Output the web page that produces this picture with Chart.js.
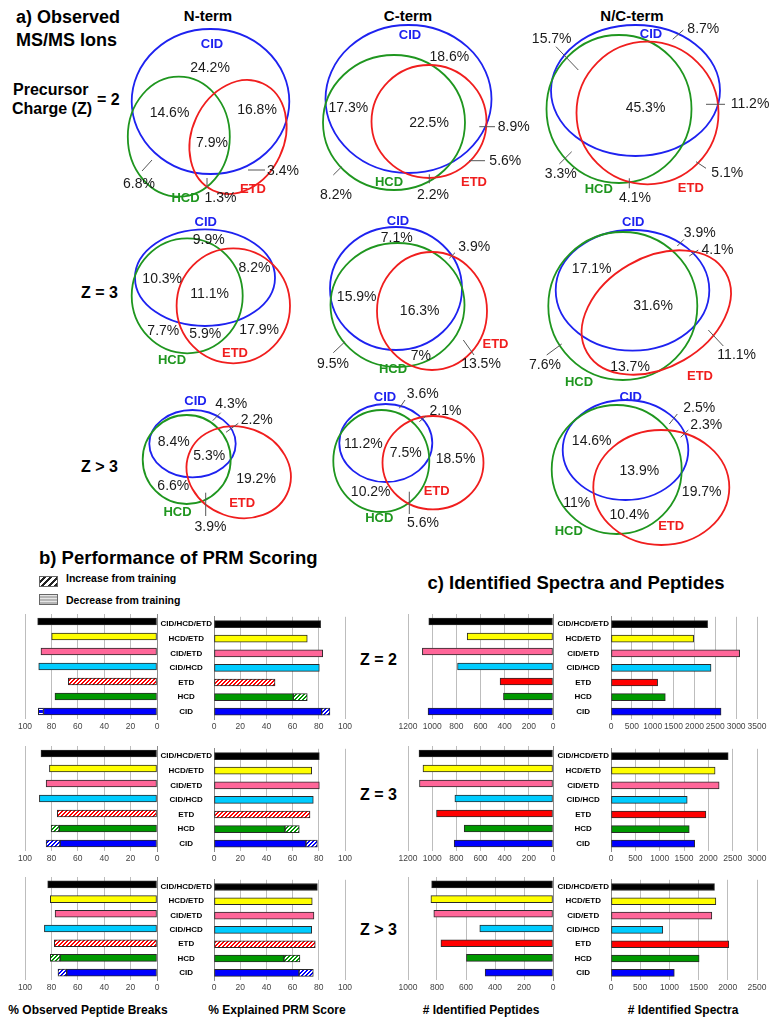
<!DOCTYPE html>
<html>
<head>
<meta charset="utf-8">
<title>Observed ions, PRM scoring, identified spectra</title>
<script src="https://cdn.jsdelivr.net/npm/chart.js@4.4.1/dist/chart.umd.min.js"></script>
<style>
  body { margin: 0; background: #fff; }
  #page { position: relative; width: 779px; height: 1026px; overflow: hidden; font-family: "Liberation Sans", Arial, sans-serif; }
  #page canvas { position: absolute; }
  .t { position: absolute; font-weight: bold; white-space: nowrap; line-height: 1; color: #000; transform: translateY(-50%); }
  .c { transform: translate(-50%, -50%); }
  .box { position: absolute; width: 17px; height: 9px; border: 1px solid #666; }
</style>
</head>
<body>
<div id="page">
  <div class="t" style="left:16px;top:17px;font-size:18px">a) Observed</div>
  <div class="t" style="left:16px;top:40px;font-size:18px">MS/MS Ions</div>
  <div class="t c" style="left:208px;top:15px;font-size:15px">N-term</div>
  <div class="t c" style="left:408px;top:15px;font-size:15px">C-term</div>
  <div class="t c" style="left:632px;top:15px;font-size:15px">N/C-term</div>
  <div class="t" style="left:13px;top:90px;font-size:16px">Precursor</div>
  <div class="t" style="left:12px;top:109px;font-size:16px">Charge (Z)</div>
  <div class="t" style="left:97px;top:100px;font-size:16px">= 2</div>
  <div class="t" style="left:81px;top:293px;font-size:16px">Z = 3</div>
  <div class="t" style="left:81px;top:467px;font-size:16px">Z &gt; 3</div>

  <div class="t" style="left:39px;top:558px;font-size:18.5px">b) Performance of PRM Scoring</div>
  <div class="box" style="left:39px;top:576px;background:repeating-linear-gradient(135deg,#fff 0 2.5px,#222 2.5px 4.5px)"></div>
  <div class="t" style="left:66px;top:578px;font-size:10.5px">Increase from training</div>
  <div class="box" style="left:39px;top:594px;background:repeating-linear-gradient(180deg,#e6e6e6 0 1.5px,#b5b5b5 1.5px 3px)"></div>
  <div class="t" style="left:66px;top:600px;font-size:10.5px">Decrease from training</div>

  <div class="t c" style="left:576px;top:583px;font-size:18.5px">c) Identified Spectra and Peptides</div>
  <div class="t" style="left:360px;top:660px;font-size:16px">Z = 2</div>
  <div class="t" style="left:360px;top:795px;font-size:16px">Z = 3</div>
  <div class="t" style="left:360px;top:930px;font-size:16px">Z &gt; 3</div>

  <div class="t c" style="left:88px;top:1010px;font-size:12px">% Observed Peptide Breaks</div>
  <div class="t c" style="left:277px;top:1010px;font-size:12px">% Explained PRM Score</div>
  <div class="t c" style="left:481px;top:1010px;font-size:12px"># Identified Peptides</div>
  <div class="t c" style="left:683px;top:1010px;font-size:12px"># Identified Spectra</div>
</div>

<script>
// ---- Venn data: share of ions per region, order: CID, HCD, ETD, CID+HCD, CID+ETD, HCD+ETD, all three
const regions = ['CID', 'HCD', 'ETD', 'CID+HCD', 'CID+ETD', 'HCD+ETD', 'CID+HCD+ETD'];
const ntermZ2 = [24.2, 6.8, 3.4, 14.6, 16.8, 1.3, 7.9];
const ctermZ2 = [18.6, 8.2, 5.6, 17.3, 8.9, 2.2, 22.5];
const nctermZ2 = [8.7, 3.3, 5.1, 15.7, 11.2, 4.1, 45.3];
const ntermZ3 = [9.9, 7.7, 17.9, 10.3, 8.2, 5.9, 11.1];
const ctermZ3 = [7.1, 9.5, 13.5, 15.9, 3.9, 7, 16.3];
const nctermZ3 = [3.9, 7.6, 11.1, 17.1, 4.1, 13.7, 31.6];
const ntermZ4 = [4.3, 6.6, 19.2, 8.4, 2.2, 3.9, 5.3];
const ctermZ4 = [3.6, 10.2, 18.5, 11.2, 2.1, 5.6, 7.5];
const nctermZ4 = [2.5, 11, 19.7, 14.6, 2.3, 10.4, 13.9];

// ---- bar data
const categories = ['CID/HCD/ETD', 'HCD/ETD', 'CID/ETD', 'CID/HCD', 'ETD', 'HCD', 'CID'];
// % observed peptide breaks, and change vs training (+ increase, - decrease)
const breaksZ2 = [90.4, 79.8, 87.9, 89.6, 67.2, 77.3, 86.0];
const breaksZ2Delta = [0, 0, 0, 0, 0, 0, -3.9];
const breaksZ3 = [87.9, 81.5, 84.0, 89.1, 75.5, 74.0, 73.4];
const breaksZ3Delta = [0, 0, 0, 0, 0, 6.2, 10.6];
const breaksZ4 = [82.8, 80.8, 77.2, 85.3, 77.8, 73.4, 68.4];
const breaksZ4Delta = [0, 0, 0, 0, 0, 7.4, 6.6];
// % explained PRM score
const prmZ2 = [81.4, 71.2, 83.0, 80.4, 46.6, 60.5, 82.2];
const prmZ2Delta = [0, 0, 0, 0, 0, 10.7, 6.3];
const prmZ3 = [80.4, 74.6, 80.4, 75.8, 73.3, 54.2, 70.2];
const prmZ3Delta = [0, 0, 0, 0, 0, 10.9, 8.7];
const prmZ4 = [78.9, 75.0, 76.3, 74.6, 77.3, 53.4, 64.9];
const prmZ4Delta = [0, 0, 0, 0, 0, 12.2, 10.9];
// identified peptides / spectra
const peptidesZ2 = [1028, 710, 1081, 790, 438, 410, 1034];
const spectraZ2 = [2316, 1981, 3084, 2398, 1118, 1302, 2638];
const peptidesZ3 = [1109, 1076, 1105, 812, 964, 735, 818];
const spectraZ3 = [2408, 2139, 2222, 1566, 1950, 1608, 1720];
const peptidesZ4 = [837, 842, 822, 505, 773, 597, 468];
const spectraZ4 = [1772, 1796, 1727, 887, 2017, 1509, 1084];
const noChange = [0, 0, 0, 0, 0, 0, 0];

Chart.defaults.font.family = '"Liberation Sans", Arial, sans-serif';
Chart.defaults.animation = false;
Chart.defaults.responsive = false;
Chart.defaults.plugins.legend.display = false;
Chart.defaults.plugins.tooltip.enabled = false;

const page = document.getElementById('page');
function addCanvas(left, top, w, h) {
  const c = document.createElement('canvas');
  c.width = w; c.height = h;
  c.style.left = left + 'px';
  c.style.top = top + 'px';
  page.appendChild(c);
  return c;
}

// ---- Venn layout (pixel units of the venn panel)
const vennColor = { cid: '#1e22f0', hcd: '#1f961f', etd: '#f01e1e' };
const vennSets = [
  { vals: ntermZ2,
    ell: { cid: [210.5, 101.5, 78.8, 72.5, 0], hcd: [178.8, 136.7, 51, 60, 0], etd: [238, 137, 46, 59, 25] },
    names: { cid: [212, 44], hcd: [185.5, 198], etd: [253, 189] },
    pos: [[210, 68], [139, 184], [283, 171], [169.5, 113], [257, 110], [220.5, 198], [212, 143]],
    lead: [null, [142, 171, 152, 160], [248, 170, 265, 170], null, null, [207, 178, 207, 188], null] },
  { vals: ctermZ2,
    ell: { cid: [408.5, 99, 83, 74, 0], hcd: [394, 122.5, 71, 67.5, 0], etd: [429, 121.5, 57.5, 56.5, 0] },
    names: { cid: [410, 35], hcd: [389, 182], etd: [474, 182.7] },
    pos: [[449.3, 56.7], [336, 195], [505.3, 160.7], [348.3, 108.3], [513.7, 126.7], [433, 195], [429, 122.7]],
    lead: [null, [333.3, 175, 341.7, 166.7], [469, 160.7, 485, 160.7], null, [479.3, 126.7, 495, 126.7], [429.3, 174.3, 429.3, 183.3], null] },
  { vals: nctermZ2,
    ell: { cid: [635.5, 90.5, 84.5, 65.5, 0], hcd: [619, 109, 72.5, 74, 0], etd: [647.5, 113, 71, 71.3, 0] },
    names: { cid: [651, 34], hcd: [598.8, 189.3], etd: [690.8, 188.3] },
    pos: [[703.3, 29.3], [560.8, 174], [727.3, 172.7], [551.7, 39.3], [750, 104.3], [635, 198.3], [645.5, 108.3]],
    lead: [[672.7, 39.3, 683.3, 30], [559.3, 164, 571.7, 151.7], [696, 161.7, 706, 168.3], [556, 46.7, 578.3, 70], [706, 104.3, 725, 104.3], [629.3, 178.3, 629.3, 188.3], null] },
  { vals: ntermZ3,
    ell: { cid: [205, 277.7, 70, 48.3, 0], hcd: [187.2, 295.8, 55.5, 57.5, 0], etd: [233.3, 305.8, 56.7, 57.5, 0] },
    names: { cid: [205.8, 222.7], hcd: [172, 360.7], etd: [235, 353.3] },
    pos: [[208.7, 240], [163.3, 330.7], [259.2, 330], [162.2, 279.3], [254.5, 268.3], [205.3, 334], [209.7, 294.3]],
    lead: [null, null, null, null, null, null, null] },
  { vals: ctermZ3,
    ell: { cid: [396, 288.5, 66, 61.5, 0], hcd: [397.5, 305, 67, 62, 0], etd: [432, 311, 55, 59, 0] },
    names: { cid: [398, 221.7], hcd: [393, 369], etd: [495.5, 344] },
    pos: [[396.7, 238.3], [333, 364], [481, 364], [356.7, 297.3], [474.2, 247.3], [420.8, 355.7], [419.7, 310.7]],
    lead: [null, [333.3, 352.7, 345, 341.7], [463.3, 340, 474, 355], null, [449.3, 258.3, 455, 252.7], null, null] },
  { vals: nctermZ3,
    ell: { cid: [632.5, 290.3, 76.8, 60.3, 0], hcd: [622.8, 306, 74.5, 74, 0], etd: [656.3, 312.5, 80, 55, -30] },
    names: { cid: [633.3, 222.7], hcd: [579, 382], etd: [700, 376] },
    pos: [[699.7, 233.3], [545, 365], [736.7, 355], [591.7, 269], [717.5, 250], [630, 367], [653, 306]],
    lead: [[677.3, 246, 684, 239.3], [546.7, 355, 561.7, 344], [708.3, 330, 723.3, 346], null, [689.3, 256, 698.3, 250], null, null] },
  { vals: ntermZ4,
    ell: { cid: [192.5, 443.7, 43.2, 33.7, 0], hcd: [186.7, 459.5, 44, 44.5, 0], etd: [238.7, 472.2, 53, 45, 20] },
    names: { cid: [195.5, 401], hcd: [177.5, 512.7], etd: [242.2, 503.3] },
    pos: [[231.2, 404.3], [173.3, 485.7], [256, 479.3], [173.7, 441.7], [256.7, 420], [210.5, 527.3], [209.2, 455.7]],
    lead: [[212.7, 420.7, 220.7, 412.7], null, null, null, [226, 432.3, 238.3, 423.3], [205.7, 492.7, 205.7, 516], null] },
  { vals: ctermZ4,
    ell: { cid: [385.8, 443, 46.5, 39, 0], hcd: [381.3, 461, 48, 51, 0], etd: [433, 462.7, 50.5, 46.7, 0] },
    names: { cid: [385, 397], hcd: [379.3, 518.3], etd: [436.7, 491.7] },
    pos: [[422.7, 394], [370.7, 491.7], [455.5, 459.3], [363.3, 444], [445.5, 410.7], [423, 523.3], [405.7, 452.7]],
    lead: [[399.3, 408.3, 405, 400], null, null, null, [419.3, 421.7, 426, 416], [409.3, 491.7, 409.3, 514], null] },
  { vals: nctermZ4,
    ell: { cid: [625.5, 450, 62.8, 50, 0], hcd: [616.7, 469.5, 65, 64.5, 0], etd: [661.3, 487.5, 68, 57.5, 0] },
    names: { cid: [630.7, 397.3], hcd: [568.8, 531.7], etd: [671.2, 526.7] },
    pos: [[699.2, 408.3], [576.7, 502.7], [701.7, 491.7], [591.7, 440.7], [706.3, 425], [629.3, 515], [639.3, 470.7]],
    lead: [[669.3, 424, 677.3, 414], null, null, null, [680.7, 437.3, 688.3, 430], null, null] }
];

const vennPlugin = {
  id: 'venn',
  afterDraw(chart) {
    const ctx = chart.ctx, xs = chart.scales.x, ys = chart.scales.y;
    const X = v => xs.getPixelForValue(v), Y = v => ys.getPixelForValue(v);
    ctx.save();
    vennSets.forEach(d => {
      ['cid', 'hcd', 'etd'].forEach(k => {
        const [cx, cy, rx, ry, rot] = d.ell[k];
        ctx.beginPath();
        ctx.ellipse(X(cx), Y(cy), Math.abs(X(rx) - X(0)), Math.abs(Y(ry) - Y(0)), rot * Math.PI / 180, 0, Math.PI * 2);
        ctx.strokeStyle = vennColor[k];
        ctx.lineWidth = 1.8;
        ctx.stroke();
      });
      ctx.strokeStyle = '#555';
      ctx.lineWidth = 1;
      d.lead.forEach(l => {
        if (!l) return;
        ctx.beginPath();
        ctx.moveTo(X(l[0]), Y(l[1]));
        ctx.lineTo(X(l[2]), Y(l[3]));
        ctx.stroke();
      });
      ctx.textAlign = 'center';
      ctx.textBaseline = 'middle';
      ctx.font = '14px "Liberation Sans", Arial, sans-serif';
      ctx.fillStyle = '#1a1a1a';
      d.vals.forEach((v, i) => ctx.fillText(v + '%', X(d.pos[i][0]), Y(d.pos[i][1])));
      ctx.font = 'bold 13px "Liberation Sans", Arial, sans-serif';
      ['cid', 'hcd', 'etd'].forEach(k => {
        ctx.fillStyle = vennColor[k];
        ctx.fillText(k.toUpperCase(), X(d.names[k][0]), Y(d.names[k][1]));
      });
    });
    ctx.restore();
  }
};

new Chart(addCanvas(0, 0, 779, 548), {
  type: 'scatter',
  data: { datasets: [] },
  options: {
    events: [],
    layout: { padding: 0 },
    scales: {
      x: { type: 'linear', min: 0, max: 779, display: false },
      y: { type: 'linear', min: 0, max: 548, reverse: true, display: false }
    }
  },
  plugins: [vennPlugin]
});

// ---- bar charts
const barColors = ['#000000', '#ffff00', '#ff6699', '#00ccff', '#ff0000', '#009900', '#0000ff'];

function pattern(color, kind) {
  const c = document.createElement('canvas');
  c.width = 4; c.height = 4;
  const g = c.getContext('2d');
  g.fillStyle = '#fff';
  g.fillRect(0, 0, 4, 4);
  g.fillStyle = color;
  for (let y = 0; y < 4; y++) {
    if (kind === 'diag') {
      g.fillRect((3 - y + 4) % 4, y, 1, 1);
      g.fillRect((4 - y + 4) % 4, y, 1, 1);
    } else if (y < 3) {
      g.fillRect(0, y, 4, 1);
    }
  }
  return g.createPattern(c, 'repeat');
}

function barChart(side, x0, x1, row, max, step, base, delta, hatchEtd) {
  const isLeft = side === 'left';
  const padTop = 4, axisH = 20;
  const left = isLeft ? x0 - 22 : x0 - 66;
  const width = (isLeft ? x1 + 8 : x1 + 22) - left;
  const height = padTop + (row[1] - row[0]) + axisH + 2;
  const solid = barColors.map((c, i) => (hatchEtd && categories[i] === 'ETD') ? pattern(c, 'diag') : c);
  const common = { borderColor: '#2a2a2a', borderWidth: 1, borderSkipped: false, barThickness: 7, stack: 's' };
  new Chart(addCanvas(left, row[0] - padTop, width, height), {
    type: 'bar',
    data: {
      labels: categories,
      datasets: [
        { ...common, data: base, backgroundColor: solid },
        { ...common, data: delta.map(v => v > 0 ? v : null), backgroundColor: barColors.map(c => pattern(c, 'diag')) },
        { ...common, data: delta.map(v => v < 0 ? -v : null), backgroundColor: barColors.map(c => pattern(c, 'horiz')) }
      ]
    },
    options: {
      indexAxis: 'y',
      events: [],
      layout: { padding: { left: isLeft ? 22 : 9, right: isLeft ? 5 : 22, top: padTop, bottom: 2 } },
      scales: {
        x: {
          type: 'linear', stacked: true, min: 0, max: max, reverse: isLeft,
          ticks: { stepSize: step, autoSkip: false, maxRotation: 0, padding: 3, color: '#444', font: { size: 8.5 },
                   callback: v => String(v) },
          grid: { color: '#bdbdbd', drawTicks: false },
          border: { display: false },
          afterFit: s => { s.height = axisH; }
        },
        y: {
          stacked: true, position: isLeft ? 'right' : 'left',
          grid: { display: false, drawTicks: false, tickLength: 0 },
          border: { color: '#8a8a8a' },
          ticks: { display: !isLeft, crossAlign: 'center', padding: 2, color: '#000', font: { size: 8, weight: 'bold' } },
          afterFit: s => { s.width = isLeft ? 3 : 57; }
        }
      }
    }
  });
}

const rowsY = [[614, 719], [746, 851], [877, 980]];

barChart('left', 25, 157, rowsY[0], 100, 20, breaksZ2, breaksZ2Delta, true);
barChart('right', 214, 345, rowsY[0], 100, 20, prmZ2, prmZ2Delta, true);
barChart('left', 25, 157, rowsY[1], 100, 20, breaksZ3, breaksZ3Delta, true);
barChart('right', 214, 345, rowsY[1], 100, 20, prmZ3, prmZ3Delta, true);
barChart('left', 25, 157, rowsY[2], 100, 20, breaksZ4, breaksZ4Delta, true);
barChart('right', 214, 345, rowsY[2], 100, 20, prmZ4, prmZ4Delta, true);

barChart('left', 408, 553, rowsY[0], 1200, 200, peptidesZ2, noChange, false);
barChart('right', 611, 757, rowsY[0], 3500, 500, spectraZ2, noChange, false);
barChart('left', 408, 553, rowsY[1], 1200, 200, peptidesZ3, noChange, false);
barChart('right', 611, 757, rowsY[1], 3000, 500, spectraZ3, noChange, false);
barChart('left', 408, 553, rowsY[2], 1000, 200, peptidesZ4, noChange, false);
barChart('right', 611, 757, rowsY[2], 2500, 500, spectraZ4, noChange, false);
</script>
</body>
</html>
